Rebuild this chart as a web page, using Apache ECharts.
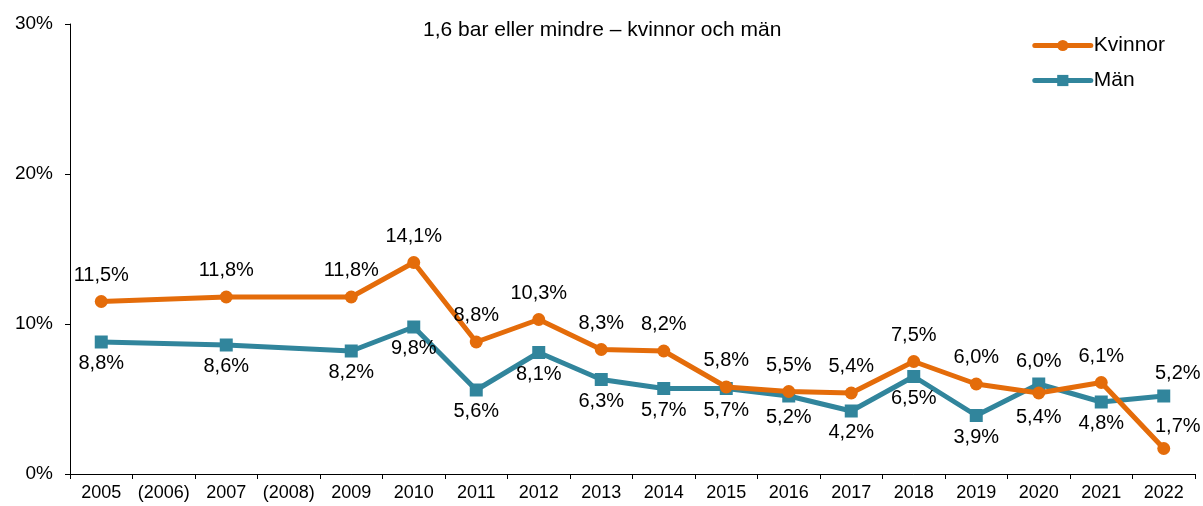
<!DOCTYPE html>
<html>
<head>
<meta charset="utf-8">
<script src="https://cdn.jsdelivr.net/npm/echarts@6/dist/echarts.min.js"></script>
<style>
html,body{margin:0;padding:0;background:#fff;}
#chart{width:1203px;height:506px;}
</style>
</head>
<body>
<div id="chart"></div>
<script>
const categories = ['2005','(2006)','2007','(2008)','2009','2010','2011','2012','2013','2014','2015','2016','2017','2018','2019','2020','2021','2022'];
const kvinnor = [11.5, null, 11.8, null, 11.8, 14.1, 8.8, 10.3, 8.3, 8.2, 5.8, 5.5, 5.4, 7.5, 6.0, 5.4, 6.1, 1.7];
const man = [8.8, null, 8.6, null, 8.2, 9.8, 5.6, 8.1, 6.3, 5.7, 5.7, 5.2, 4.2, 6.5, 3.9, 6.0, 4.8, 5.2];
const titleText = '1,6 bar eller mindre – kvinnor och män';

const FONT = 'Liberation Sans, Arial, Helvetica, sans-serif';
const fmt = p => p.value == null ? '' : p.value.toFixed(1).replace('.', ',') + '%';

// label placement overrides (index -> label options)
const kOverrides = { 15: {position: 'bottom', distance: 8}, 17: {position: 'top', offset: [14, 0], distance: 6} };
const mOverrides = { 15: {position: 'top', distance: 6}, 17: {position: 'top', offset: [14, 0], distance: 6} };

function build(values, overrides) {
  return values.map((v, i) => overrides[i] ? {value: v, label: overrides[i]} : v);
}

const chart = echarts.init(document.getElementById('chart'), null, {renderer: 'canvas'});
chart.setOption({
  animation: false,
  backgroundColor: '#ffffff',
  title: {
    text: titleText,
    left: 418, top: 15,
    textStyle: {fontFamily: FONT, fontSize: 21, fontWeight: 'normal', color: '#000'}
  },
  legend: {
    orient: 'vertical',
    right: 33, top: 30,
    itemWidth: 56, itemHeight: 14, itemGap: 14,
    lineStyle: {width: 5, cap: 'round'},
    textStyle: {fontFamily: FONT, fontSize: 21, color: '#000', padding: [0,0,0,-2]},
    data: ['Kvinnor', 'Män']
  },
  grid: {left: 70, right: 8, top: 24, bottom: 32, containLabel: false},
  xAxis: {
    type: 'category',
    data: categories,
    boundaryGap: true,
    axisLine: {lineStyle: {color: '#000', width: 1}},
    axisTick: {show: true, interval: 0, length: 5, lineStyle: {color: '#000'}},
    axisLabel: {interval: 0, margin: 10, fontFamily: FONT, fontSize: 18, color: '#000'},
    splitLine: {show: false}
  },
  yAxis: {
    type: 'value',
    min: 0, max: 30, interval: 10,
    axisLine: {show: true, lineStyle: {color: '#000', width: 1}},
    axisTick: {show: true, length: 5, lineStyle: {color: '#000'}},
    axisLabel: {margin: 17, formatter: '{value}%', fontFamily: FONT, fontSize: 19, color: '#000'},
    splitLine: {show: false}
  },
  series: [
    {
      name: 'Kvinnor', type: 'line',
      data: build(kvinnor, kOverrides),
      connectNulls: true,
      symbol: 'circle', symbolSize: 13,
      lineStyle: {width: 5, color: '#E46C0A'},
      itemStyle: {color: '#E46C0A'},
      label: {show: true, position: 'top', distance: 10, formatter: fmt, fontFamily: FONT, fontSize: 20, color: '#000'},
      z: 3
    },
    {
      name: 'Män', type: 'line',
      data: build(man, mOverrides),
      connectNulls: true,
      symbol: 'rect', symbolSize: 13,
      lineStyle: {width: 5, color: '#31859C'},
      itemStyle: {color: '#31859C'},
      label: {show: true, position: 'bottom', distance: 5, formatter: fmt, fontFamily: FONT, fontSize: 20, color: '#000'},
      z: 2
    }
  ]
});
</script>
</body>
</html>
